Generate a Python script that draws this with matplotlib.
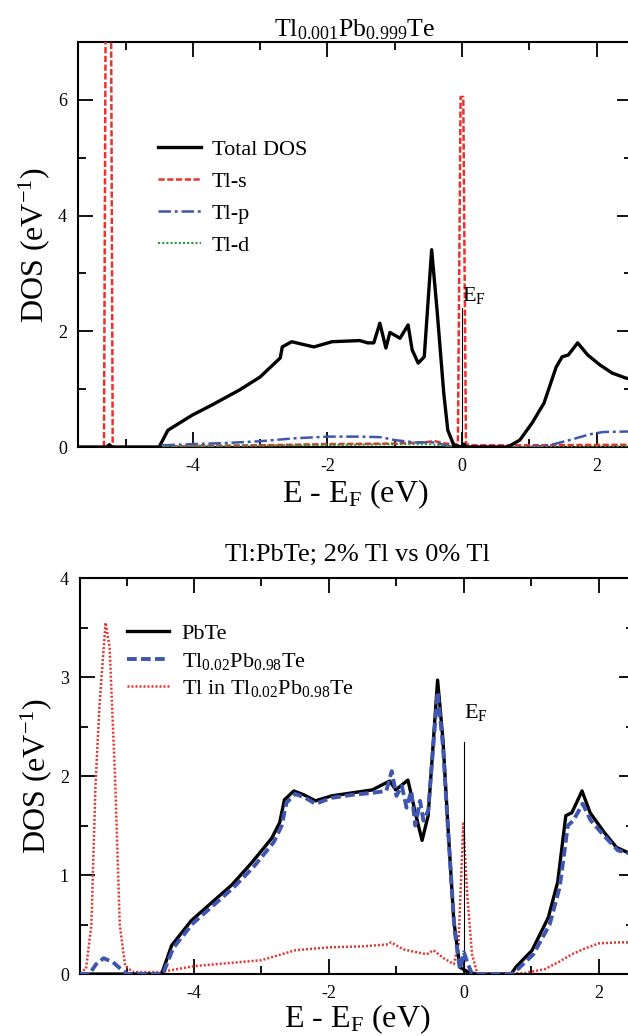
import numpy as np
import matplotlib
matplotlib.use('Agg')
import matplotlib.pyplot as plt
from matplotlib.ticker import MultipleLocator

plt.rcParams['font.family'] = ['Liberation Serif', 'DejaVu Serif']
plt.rcParams['mathtext.fontset'] = 'custom'
plt.rcParams['mathtext.rm'] = 'Liberation Serif'
plt.rcParams['mathtext.it'] = 'Liberation Serif:italic'
plt.rcParams['axes.unicode_minus'] = False

RED = '#e8322e'
BLUE = '#3f56b0'
GREEN = '#2a9a3a'

# ---- top panel: Tl0.001Pb0.999Te (energy, DOS) ----
tot_E = [-5.71, -5.28, -5.24, -5.20, -4.50, -4.37, -4.01, -3.71, -3.30, -3.00, -2.70, -2.67,
         -2.53, -2.35, -2.20, -1.93, -1.52, -1.40, -1.31, -1.22, -1.13, -1.07, -0.92, -0.80,
         -0.74, -0.65, -0.56, -0.45, -0.37, -0.27, -0.21, -0.12, 0.0, 0.03, 0.06, 0.68,
         0.86, 1.04, 1.22, 1.40, 1.49, 1.58, 1.72, 1.87, 2.05, 2.23, 2.44, 2.55]
tot_D = [0.0, 0.0, 0.04, 0.0, 0.0, 0.29, 0.55, 0.73, 0.99, 1.21, 1.54, 1.73,
         1.82, 1.77, 1.73, 1.82, 1.84, 1.80, 1.80, 2.14, 1.71, 1.98, 1.88, 2.11,
         1.68, 1.45, 1.56, 3.41, 2.37, 0.93, 0.29, 0.03, 0.0, 0.05, 0.0, 0.0,
         0.12, 0.41, 0.76, 1.38, 1.56, 1.59, 1.80, 1.59, 1.42, 1.28, 1.19, 1.17]

tls_E = [-5.71, -5.32, -5.29, -5.22, -5.19, -4.5, -4.0, -3.0, -2.0, -1.0, -0.6, -0.4, -0.25,
         -0.06, -0.02, 0.02, 0.06, 0.15, 1.0, 2.55]
tls_D = [0.0, 0.0, 9.0, 9.0, 0.0, 0.0, 0.02, 0.03, 0.05, 0.06, 0.08, 0.10, 0.06,
         0.05, 6.05, 6.05, 0.05, 0.03, 0.03, 0.04]

tlp_E = [-4.45, -4.0, -3.5, -3.0, -2.5, -2.0, -1.5, -1.2, -1.0, -0.7, -0.4, -0.25, -0.1,
         0.8, 1.0, 1.3, 1.6, 1.9, 2.1, 2.55]
tlp_D = [0.03, 0.05, 0.07, 0.10, 0.15, 0.18, 0.18, 0.17, 0.12, 0.08, 0.08, 0.03, 0.0,
         0.0, 0.0, 0.03, 0.12, 0.22, 0.26, 0.27]

tld_E = [-4.45, -3.5, -2.5, -1.5, -1.0, -0.5, -0.2, 0.0, 0.8, 2.55]
tld_D = [0.01, 0.02, 0.03, 0.04, 0.05, 0.05, 0.02, 0.0, 0.0, 0.01]

# ---- bottom panel: 2% Tl vs 0% Tl ----
pbte_E = [-5.70, -4.48, -4.33, -4.04, -3.74, -3.44, -3.15, -2.85, -2.73, -2.66, -2.52, -2.37,
          -2.20, -1.96, -1.66, -1.36, -1.10, -1.01, -0.83, -0.71, -0.62, -0.53, -0.39, -0.31,
          -0.24, -0.15, -0.06, 0.06, 0.18, 0.70, 0.77, 1.01, 1.25, 1.39, 1.51, 1.60, 1.75,
          1.87, 2.08, 2.26, 2.42, 2.55]
pbte_D = [0.0, 0.0, 0.29, 0.54, 0.72, 0.90, 1.12, 1.37, 1.53, 1.76, 1.85, 1.81,
          1.75, 1.80, 1.83, 1.86, 1.95, 1.86, 1.96, 1.60, 1.35, 1.60, 2.97, 2.36,
          1.53, 0.54, 0.07, 0.02, 0.0, 0.0, 0.07, 0.24, 0.57, 0.93, 1.60, 1.63, 1.85,
          1.63, 1.43, 1.28, 1.23, 1.22]

tl2_E = [-5.70, -5.55, -5.45, -5.34, -5.20, -5.05, -4.98, -4.46, -4.31, -4.02, -3.72, -3.42,
         -3.12, -2.82, -2.70, -2.63, -2.50, -2.35, -2.20, -1.96, -1.66, -1.36, -1.15, -1.07,
         -1.00, -0.92, -0.85, -0.78, -0.72, -0.65, -0.60, -0.53, -0.39, -0.31, -0.23, -0.14,
         -0.06, 0.0, 0.06, 0.12, 0.20, 0.72, 0.80, 1.03, 1.27, 1.42, 1.54, 1.62, 1.76, 1.88,
         2.10, 2.28, 2.44, 2.55]
tl2_D = [0.0, 0.0, 0.10, 0.16, 0.12, 0.03, 0.0, 0.0, 0.26, 0.51, 0.69, 0.87,
         1.08, 1.33, 1.50, 1.73, 1.82, 1.78, 1.72, 1.78, 1.81, 1.83, 1.85, 2.05,
         1.80, 1.90, 1.68, 1.85, 1.50, 1.75, 1.55, 1.65, 2.85, 2.30, 1.40, 0.45,
         0.05, 0.22, 0.10, 0.0, 0.0, 0.0, 0.05, 0.20, 0.50, 0.88, 1.50, 1.55, 1.72,
         1.55, 1.38, 1.25, 1.22, 1.20]

tlin_E = [-5.70, -5.60, -5.52, -5.46, -5.40, -5.31, -5.25, -5.17, -5.10, -5.02, -4.90, -4.5,
          -4.0, -3.5, -3.0, -2.7, -2.5, -2.0, -1.5, -1.12, -1.08, -0.9, -0.7, -0.55, -0.45,
          -0.3, -0.15, -0.08, -0.01, 0.05, 0.12, 0.20, 0.9, 1.2, 1.4, 1.6, 1.8, 2.0, 2.3, 2.55]
tlin_D = [0.02, 0.05, 0.5, 1.9, 2.72, 3.55, 3.30, 2.0, 0.5, 0.08, 0.02, 0.02,
          0.08, 0.11, 0.14, 0.20, 0.24, 0.27, 0.28, 0.30, 0.32, 0.25, 0.22, 0.20, 0.24,
          0.16, 0.10, 0.30, 1.52, 0.80, 0.20, 0.0, 0.01, 0.05, 0.12, 0.20, 0.26, 0.31,
          0.32, 0.32]


def style_axes(ax, ymaj, ymin, xpad):
    ax.xaxis.set_major_locator(MultipleLocator(2))
    ax.xaxis.set_minor_locator(MultipleLocator(1))
    ax.yaxis.set_major_locator(MultipleLocator(ymaj))
    ax.yaxis.set_minor_locator(MultipleLocator(ymin))
    ax.tick_params(which='both', direction='in', top=True, right=True, width=1.3,
                   labelsize=13, pad=8)
    ax.tick_params(which='major', length=11)
    ax.tick_params(which='minor', length=6)
    for s in ax.spines.values():
        s.set_linewidth(1.5)
    ax.set_xlabel(r'E - E$_\mathrm{F}$ (eV)', fontsize=23, labelpad=xpad)
    ax.set_ylabel(r'DOS (eV$^{-1}$)', fontsize=23, labelpad=4)


fig = plt.figure(figsize=(6.28, 10.36), dpi=100)

ax1 = fig.add_axes([0.1242, 0.5685, 0.882, 0.391])
ax1.plot(tot_E, tot_D, color='black', lw=2.4, label='Total DOS', zorder=4)
ax1.plot(tls_E, tls_D, color=RED, lw=1.8, ls=(0, (2.5, 1)), label='Tl-s', zorder=3)
ax1.plot(tlp_E, tlp_D, color=BLUE, lw=1.8, ls=(0, (5, 1.5, 1.2, 1.5)), label='Tl-p', zorder=3)
ax1.plot(tld_E, tld_D, color=GREEN, lw=1.5, ls=(0, (1, 1)), label='Tl-d', zorder=3)
ax1.plot([0, 0], [0, 2.4], color='black', lw=0.8)
ax1.text(0.0, 2.62, r'E$_\mathrm{F}$', fontsize=16, ha='left', va='center')
ax1.set_xlim(-5.706, 2.526)
ax1.set_ylim(0, 7)
style_axes(ax1, 2, 1, 2)
ax1.set_title(r'Tl$_{0.001}$Pb$_{0.999}$Te', fontsize=18.5, pad=4)
ax1.legend(loc='upper left', bbox_to_anchor=(0.117, 0.798), frameon=False, fontsize=16,
           handlelength=1.9, handletextpad=0.5, labelspacing=0.52, borderpad=0.2)

ax2 = fig.add_axes([0.1274, 0.0598, 0.882, 0.3822])
ax2.plot(pbte_E, pbte_D, color='black', lw=2.4, label='PbTe', zorder=3)
ax2.plot(tl2_E, tl2_D, color=BLUE, lw=2.8, ls=(0, (2.5, 1.1)),
         label=r'Tl$_{0.02}$Pb$_{0.98}$Te', zorder=4)
ax2.plot(tlin_E, tlin_D, color=RED, lw=1.8, ls=(0, (0.8, 0.8)),
         label=r'Tl in Tl$_{0.02}$Pb$_{0.98}$Te', zorder=2)
ax2.plot([0, 0], [0, 2.34], color='black', lw=0.8)
ax2.text(0.0, 2.64, r'E$_\mathrm{F}$', fontsize=16, ha='left', va='center')
ax2.set_xlim(-5.689, 2.519)
ax2.set_ylim(0, 4)
style_axes(ax2, 1, 0.5, 0)
ax2.set_title('Tl:PbTe; 2% Tl vs 0% Tl', fontsize=19, pad=12)
ax2.legend(loc='upper left', bbox_to_anchor=(0.057, 0.925), frameon=False, fontsize=16,
           handlelength=1.9, handletextpad=0.55, labelspacing=0.3, borderpad=0.2)

fig.savefig('out.png', dpi=100)
